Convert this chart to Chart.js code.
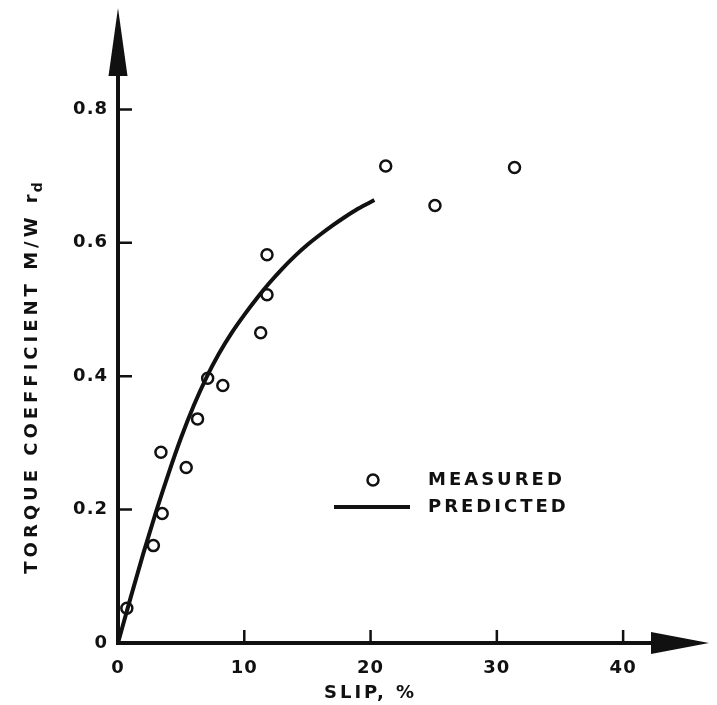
<!DOCTYPE html>
<html>
<head>
<meta charset="utf-8">
<script src="https://cdn.jsdelivr.net/npm/chart.js@4.4.0/dist/chart.umd.min.js"></script>
<style>
  html, body { margin: 0; padding: 0; background: #fff; }
  #wrap { width: 717px; height: 705px; }
</style>
</head>
<body>
<div id="wrap"><canvas id="chart" width="717" height="705"></canvas></div>
<script>
const xTicks = [0, 10, 20, 30, 40];
const yTicks = [0, 0.2, 0.4, 0.6, 0.8];
const yTickLabels = ['0', '0.2', '0.4', '0.6', '0.8'];

const measuredSlip = [0.7, 2.8, 3.5, 3.4, 5.4, 6.3, 7.1, 8.3, 11.3, 11.8, 11.8, 21.2, 25.1, 31.4];
const measuredTorque = [0.052, 0.146, 0.194, 0.286, 0.263, 0.336, 0.397, 0.386, 0.465, 0.522, 0.582, 0.715, 0.656, 0.713];

const predictedSlip = [0, 1, 2, 3, 4, 5, 6, 7, 8, 9, 10, 11, 12, 13, 14, 15, 16, 17, 18, 19, 20.3];
const predictedTorque = [0, 0.068, 0.134, 0.196, 0.254, 0.308, 0.356, 0.398, 0.434, 0.465, 0.492, 0.517, 0.540, 0.561, 0.580, 0.597, 0.612, 0.626, 0.639, 0.651, 0.664];

const INK = '#111';
const FONT = '"DejaVu Sans", sans-serif';

function toPoints(xs, ys) {
  return xs.map((v, i) => ({ x: v, y: ys[i] }));
}

const axesPlugin = {
  id: 'axes',
  beforeDatasetsDraw(chart) {
    const { ctx, chartArea, scales } = chart;
    const x0 = scales.x.getPixelForValue(0);
    const y0 = scales.y.getPixelForValue(0);
    ctx.save();
    ctx.strokeStyle = INK;
    ctx.fillStyle = INK;

    // axis lines
    ctx.lineWidth = 4;
    ctx.beginPath();
    ctx.moveTo(x0, y0 + 2);
    ctx.lineTo(x0, chartArea.top + 40);
    ctx.moveTo(x0 - 2, y0);
    ctx.lineTo(chartArea.right - 40, y0);
    ctx.stroke();

    // arrow heads
    ctx.beginPath();
    ctx.moveTo(x0, chartArea.top);
    ctx.lineTo(x0 + 9.5, chartArea.top + 68);
    ctx.lineTo(x0 - 9.5, chartArea.top + 68);
    ctx.closePath();
    ctx.fill();
    ctx.beginPath();
    ctx.moveTo(chartArea.right, y0);
    ctx.lineTo(chartArea.right - 58, y0 - 11);
    ctx.lineTo(chartArea.right - 58, y0 + 11);
    ctx.closePath();
    ctx.fill();

    // inward tick marks
    ctx.lineWidth = 2.5;
    ctx.beginPath();
    yTicks.slice(1).forEach((v) => {
      const py = scales.y.getPixelForValue(v);
      ctx.moveTo(x0, py);
      ctx.lineTo(x0 + 14, py);
    });
    xTicks.slice(1).forEach((v) => {
      const px = scales.x.getPixelForValue(v);
      ctx.moveTo(px, y0);
      ctx.lineTo(px, y0 - 13);
    });
    ctx.stroke();
    ctx.restore();
  },
  afterDraw(chart) {
    const { ctx, scales } = chart;
    const x0 = scales.x.getPixelForValue(0);
    const y0 = scales.y.getPixelForValue(0);
    ctx.save();
    ctx.fillStyle = INK;
    ctx.font = `bold 18px ${FONT}`;
    ctx.letterSpacing = '1px';

    // tick labels
    ctx.textAlign = 'right';
    ctx.textBaseline = 'middle';
    yTicks.forEach((v, i) => {
      ctx.fillText(yTickLabels[i], x0 - 10, scales.y.getPixelForValue(v));
    });
    ctx.textAlign = 'center';
    ctx.textBaseline = 'top';
    xTicks.forEach((v) => {
      ctx.fillText(String(v), scales.x.getPixelForValue(v), y0 + 16);
    });

    // axis titles
    ctx.letterSpacing = '3px';
    ctx.textAlign = 'center';
    ctx.textBaseline = 'alphabetic';
    ctx.fillText('SLIP, %', scales.x.getPixelForValue(20), y0 + 55);

    ctx.save();
    ctx.translate(37, 375);
    ctx.rotate(-Math.PI / 2);
    const main = 'TORQUE COEFFICIENT M/W r';
    ctx.letterSpacing = '4px';
    ctx.font = `bold 18px ${FONT}`;
    const w1 = ctx.measureText(main).width;
    ctx.font = `bold 14px ${FONT}`;
    const w2 = ctx.measureText('d').width;
    const start = -(w1 + w2) / 2;
    ctx.textAlign = 'left';
    ctx.font = `bold 18px ${FONT}`;
    ctx.fillText(main, start, 0);
    ctx.font = `bold 14px ${FONT}`;
    ctx.fillText('d', start + w1 - 2, 5);
    ctx.restore();

    // legend
    ctx.letterSpacing = '3px';
    ctx.font = `bold 18px ${FONT}`;
    ctx.textAlign = 'left';
    ctx.textBaseline = 'middle';
    ctx.strokeStyle = INK;
    ctx.lineWidth = 2.5;
    ctx.beginPath();
    ctx.arc(373, 480, 5.5, 0, Math.PI * 2);
    ctx.stroke();
    ctx.lineWidth = 4;
    ctx.beginPath();
    ctx.moveTo(334, 507);
    ctx.lineTo(410, 507);
    ctx.stroke();
    ctx.fillText('MEASURED', 428, 480);
    ctx.fillText('PREDICTED', 428, 507);
    ctx.restore();
  },
};

const whiteBg = {
  id: 'whiteBg',
  beforeDraw(chart) {
    const { ctx, width, height } = chart;
    ctx.save();
    ctx.fillStyle = '#fff';
    ctx.fillRect(0, 0, width, height);
    ctx.restore();
  },
};

new Chart(document.getElementById('chart'), {
  type: 'scatter',
  data: {
    datasets: [
      {
        label: 'Measured',
        data: toPoints(measuredSlip, measuredTorque),
        showLine: false,
        pointRadius: 5.5,
        pointBorderWidth: 2.5,
        pointBorderColor: INK,
        pointBackgroundColor: 'rgba(0,0,0,0)',
        order: 1,
      },
      {
        label: 'Predicted',
        data: toPoints(predictedSlip, predictedTorque),
        showLine: true,
        borderColor: INK,
        borderWidth: 4,
        pointRadius: 0,
        cubicInterpolationMode: 'monotone',
        order: 2,
      },
    ],
  },
  options: {
    responsive: false,
    animation: false,
    clip: false,
    layout: { padding: { left: 118, right: 0, top: 5, bottom: 62 } },
    plugins: { legend: { display: false }, tooltip: { enabled: false } },
    scales: {
      x: { type: 'linear', min: 0, max: 46.8, display: false },
      y: { type: 'linear', min: 0, max: 0.952, display: false },
    },
  },
  plugins: [whiteBg, axesPlugin],
});
</script>
</body>
</html>
